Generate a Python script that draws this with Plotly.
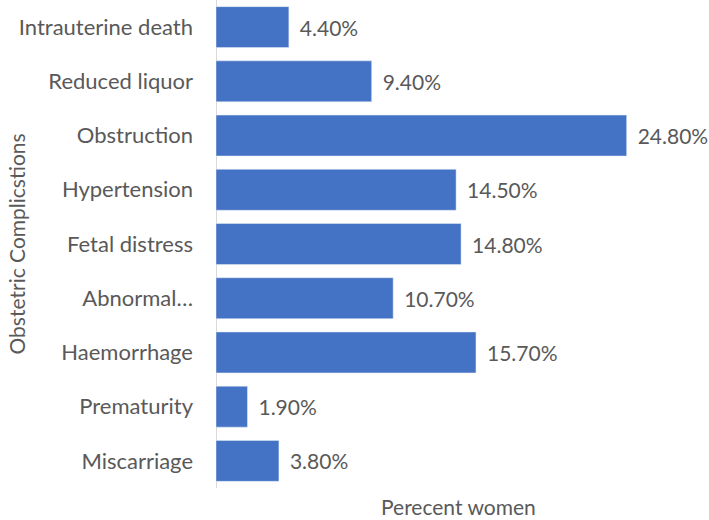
import plotly.graph_objects as go

complications = [
    "Intrauterine death",
    "Reduced liquor",
    "Obstruction",
    "Hypertension",
    "Fetal distress",
    "Abnormal…",
    "Haemorrhage",
    "Prematurity",
    "Miscarriage",
]
percent_women = [4.4, 9.4, 24.8, 14.5, 14.8, 10.7, 15.7, 1.9, 3.8]

FONT = "Lato, 'Open Sans', sans-serif"
TEXT_COLOR = "#595959"

labels = ["\u00a0\u2009{:.2f}%".format(v) for v in percent_women]

fig = go.Figure()
fig.add_trace(
    go.Bar(
        y=complications,
        x=percent_women,
        orientation="h",
        marker_color="#4472C4",
        text=labels,
        textposition="outside",
        constraintext="none",
        textfont={"size": 21, "color": TEXT_COLOR, "family": FONT},
        cliponaxis=False,
    )
)

fig.update_layout(
    width=709,
    height=520,
    paper_bgcolor="white",
    plot_bgcolor="white",
    margin={"l": 216, "r": 9, "t": 0, "b": 32, "autoexpand": False},
    bargap=0.245,
    showlegend=False,
    font={"family": FONT, "color": TEXT_COLOR},
)

fig.update_xaxes(
    range=[0, 29.23],
    showticklabels=False,
    showgrid=False,
    zeroline=True,
    zerolinecolor="#D9D9D9",
    zerolinewidth=1,
    automargin=False,
)

fig.update_yaxes(
    autorange="reversed",
    showgrid=False,
    tickfont={"size": 22, "color": TEXT_COLOR},
    ticklabelstandoff=22,
    automargin=False,
    title=None,
)

fig.add_annotation(
    text="Perecent women",
    xref="paper",
    yref="paper",
    x=0.5,
    y=0,
    yanchor="top",
    yshift=-4,
    showarrow=False,
    font={"size": 21, "color": TEXT_COLOR},
)

fig.add_annotation(
    text="Obstetric Complicstions",
    textangle=-90,
    xref="paper",
    yref="paper",
    x=-216 / 484,
    xanchor="left",
    xshift=1,
    y=0.5,
    yanchor="middle",
    showarrow=False,
    font={"size": 21, "color": TEXT_COLOR},
)

# page body has a default 8px margin; drop it so the figure fills the window
fig.write_html(
    "out.html",
    config={"displayModeBar": False},
    post_script="document.body.style.margin = '0';",
)
